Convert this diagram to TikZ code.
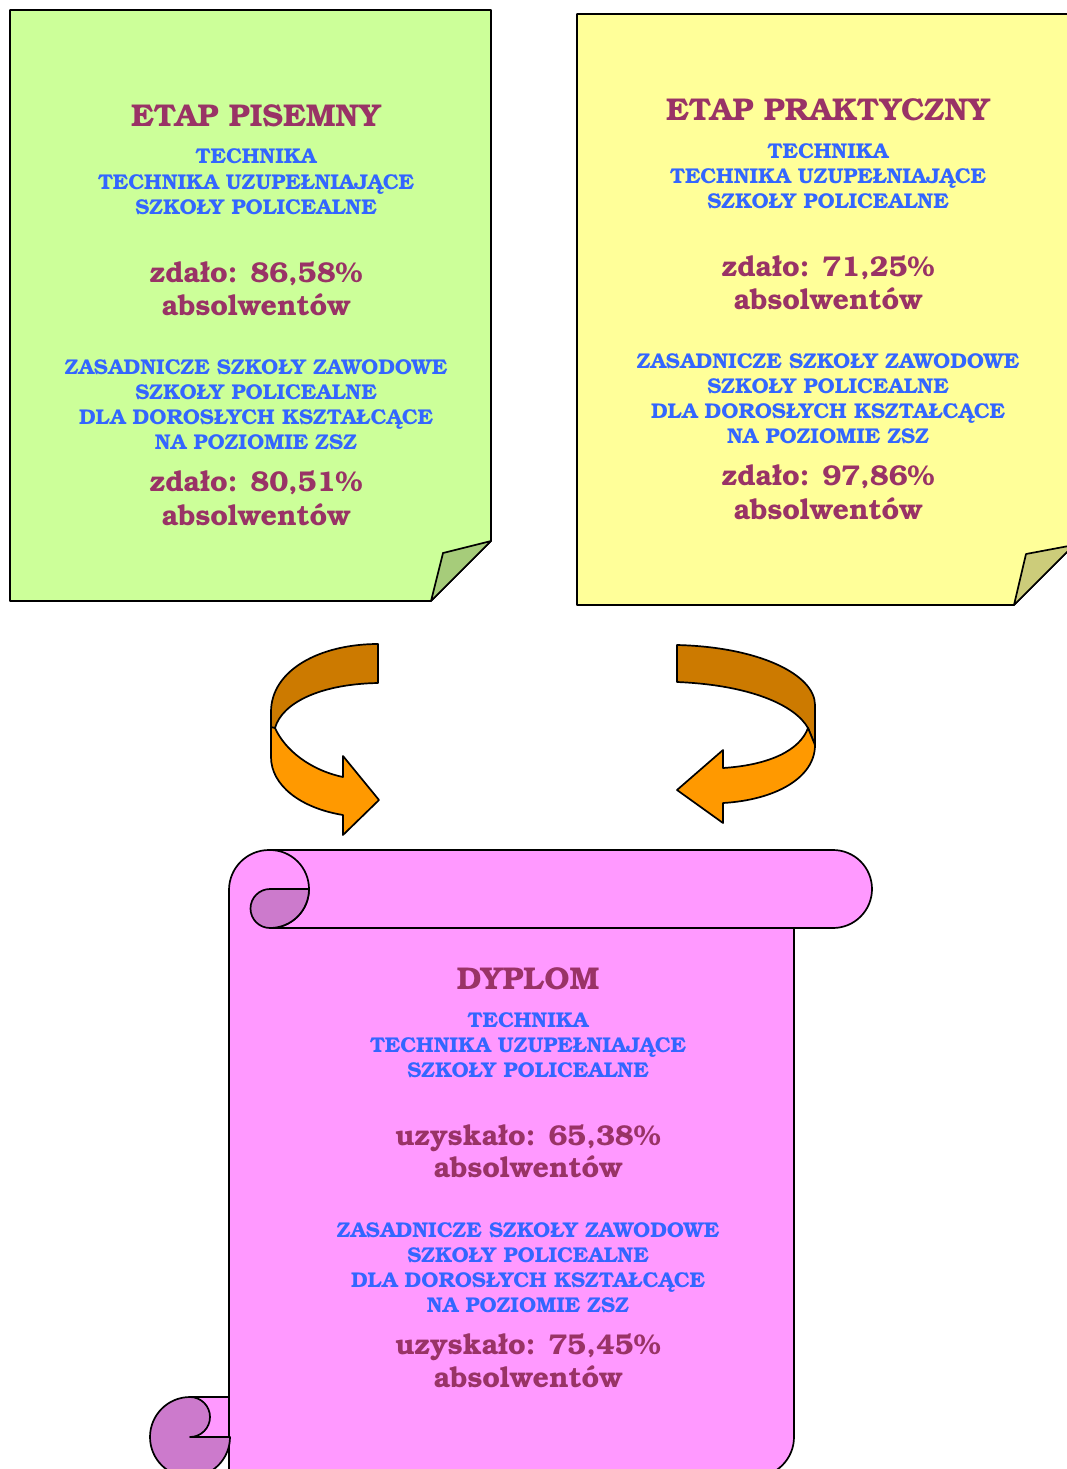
\documentclass[tikz,border=0pt]{standalone}
\usepackage{fontspec}
\newfontfamily\bk{texgyrebonum-bold}[Extension=.otf]
\definecolor{notegreen}{HTML}{CCFF99}
\definecolor{flapgreen}{HTML}{A6CC7A}
\definecolor{noteyellow}{HTML}{FFFF99}
\definecolor{flapyellow}{HTML}{CCCC7A}
\definecolor{scrollpink}{HTML}{FF99FF}
\definecolor{curlpink}{HTML}{CC7ACC}
\definecolor{arrowdark}{HTML}{CC7A00}
\definecolor{arroworange}{HTML}{FF9900}
\definecolor{maroon}{HTML}{993366}
\definecolor{txtblue}{HTML}{3366FF}
\tikzset{
  outl/.style={draw=black, line width=1.7pt, line join=round},
  ttl/.style={anchor=base, text=maroon, font=\bk\fontsize{31.5}{35}\selectfont, inner sep=0pt},
  blu/.style={anchor=base, text=txtblue, font=\bk\fontsize{21.4}{24}\selectfont, inner sep=0pt},
  pct/.style={anchor=base, text=maroon, font=\bk\fontsize{28.6}{32}\selectfont, inner sep=0pt},
}
\begin{document}
\begin{tikzpicture}[x=1pt,y=-1pt]
\useasboundingbox (0,0) rectangle (1067,1469);
\clip (0,0) rectangle (1067,1469);
% green note
\path[outl, fill=notegreen] (10,10) -- (491,10) -- (491,541) -- (431,601) -- (10,601) -- cycle;
\path[outl, fill=flapgreen] (491,541) -- (443,553) -- (431,601) -- cycle;
% yellow note
\path[outl, fill=noteyellow] (577,14) -- (1074,14) -- (1074,545) -- (1014,605) -- (577,605) -- cycle;
\path[outl, fill=flapyellow] (1074,545) -- (1026,554) -- (1014,605) -- cycle;
% left arrow
\path[outl, fill=arroworange] (271,715) -- (271,757) .. controls (271,785) and (300,808) .. (343,815) -- (343,835) -- (379,800) -- (343,756) -- (343,777) .. controls (310,770) and (285,750) .. (275,728) -- cycle;
\path[outl, fill=arrowdark] (378,644) -- (378,683) .. controls (320,684) and (282,703) .. (275,728) -- (271,727) -- (271,712) .. controls (271,670) and (320,644) .. (378,644) -- cycle;
% right arrow
\path[outl, fill=arrowdark] (677,645) -- (677,682) .. controls (750,685) and (795,705) .. (808,728) -- (815,745) -- (815,705) .. controls (815,675) and (760,647) .. (677,645) -- cycle;
\path[outl, fill=arroworange] (808,728) -- (815,745) .. controls (815,778) and (775,800) .. (723,803) -- (723,823) -- (677,790) -- (723,750) -- (723,768) .. controls (770,765) and (800,750) .. (808,728) -- cycle;
% scroll body
\path[outl, fill=scrollpink] (229,1480) -- (229,890) arc[start angle=180, end angle=270, radius=40] -- (833,850) arc[start angle=270, end angle=450, radius=39] -- (794,928) -- (794,1437) arc[start angle=0, end angle=90, radius=40] -- (229,1477) -- cycle;
\draw[outl] (270,928) -- (833,928);
\draw[outl] (270,850) arc[start angle=270, end angle=450, radius=39];
\path[outl, fill=curlpink] (309,889) -- (270,889) arc[start angle=270, end angle=90, radius=19.5] arc[start angle=90, end angle=0, radius=39] -- cycle;
% bottom curl
\path[outl, fill=scrollpink] (190,1397) -- (229,1397) -- (229,1437) -- (190,1437);
\path[outl, fill=curlpink] (190,1397) arc[start angle=270, end angle=450, radius=20] -- (230,1437) arc[start angle=0, end angle=270, radius=40] -- cycle;
% texts green
\node[ttl] (g1) at (256,127) {ETAP PISEMNY};
\node[blu] (g2) at (256,164) {TECHNIKA};
\node[blu] (g3) at (256,189) {TECHNIKA UZUPEŁNIAJĄCE};
\node[blu] (g4) at (256,214) {SZKOŁY POLICEALNE};
\node[pct] (g5) at (256,282) {zdało: 86,58\%};
\node[pct] (g6) at (256,315) {absolwentów};
\node[blu] (g7) at (256,374) {ZASADNICZE SZKOŁY ZAWODOWE};
\node[blu] (g8) at (256,399) {SZKOŁY POLICEALNE};
\node[blu] (g9) at (256,424) {DLA DOROSŁYCH KSZTAŁCĄCE};
\node[blu] (g10) at (256,449) {NA POZIOMIE ZSZ};
\node[pct] (g11) at (256,491) {zdało: 80,51\%};
\node[pct] (g12) at (256,525) {absolwentów};
% texts yellow
\node[ttl] (y1) at (828,121) {ETAP PRAKTYCZNY};
\node[blu] (y2) at (828,158) {TECHNIKA};
\node[blu] (y3) at (828,183) {TECHNIKA UZUPEŁNIAJĄCE};
\node[blu] (y4) at (828,208) {SZKOŁY POLICEALNE};
\node[pct] (y5) at (828,276) {zdało: 71,25\%};
\node[pct] (y6) at (828,309) {absolwentów};
\node[blu] (y7) at (828,368) {ZASADNICZE SZKOŁY ZAWODOWE};
\node[blu] (y8) at (828,393) {SZKOŁY POLICEALNE};
\node[blu] (y9) at (828,418) {DLA DOROSŁYCH KSZTAŁCĄCE};
\node[blu] (y10) at (828,443) {NA POZIOMIE ZSZ};
\node[pct] (y11) at (828,485) {zdało: 97,86\%};
\node[pct] (y12) at (828,519) {absolwentów};
% texts scroll
\node[ttl] (d1) at (528,989) {DYPLOM};
\node[blu] (d2) at (528,1027) {TECHNIKA};
\node[blu] (d3) at (528,1052) {TECHNIKA UZUPEŁNIAJĄCE};
\node[blu] (d4) at (528,1077) {SZKOŁY POLICEALNE};
\node[pct] (d5) at (528,1145) {uzyskało: 65,38\%};
\node[pct] (d6) at (528,1177) {absolwentów};
\node[blu] (d7) at (528,1237) {ZASADNICZE SZKOŁY ZAWODOWE};
\node[blu] (d8) at (528,1262) {SZKOŁY POLICEALNE};
\node[blu] (d9) at (528,1287) {DLA DOROSŁYCH KSZTAŁCĄCE};
\node[blu] (d10) at (528,1312) {NA POZIOMIE ZSZ};
\node[pct] (d11) at (528,1354) {uzyskało: 75,45\%};
\node[pct] (d12) at (528,1387) {absolwentów};
\end{tikzpicture}
\end{document}
